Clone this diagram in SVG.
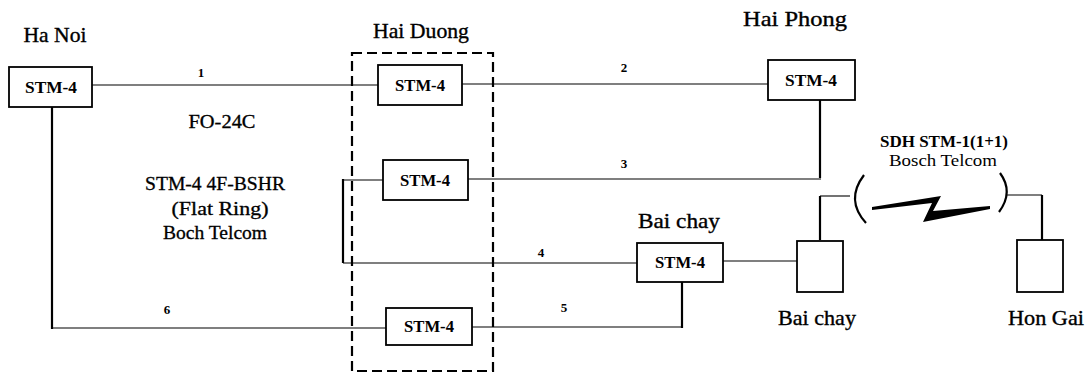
<svg xmlns="http://www.w3.org/2000/svg" width="1090" height="374" viewBox="0 0 1090 374" font-family="'Liberation Serif', 'Times New Roman', serif">
  <style>
    text { font-family: "Liberation Serif", "Times New Roman", serif; fill: #000; }
    .city { font-size: 21px; text-anchor: middle; stroke: #000; stroke-width: 0.35; }
    .box-label { font-size: 17px; text-anchor: middle; font-weight: bold; }
    .num { font-size: 13px; text-anchor: middle; font-weight: bold; }
    .note { font-size: 18px; text-anchor: middle; stroke: #000; stroke-width: 0.3; }
    .radio { font-size: 16px; text-anchor: middle; }
    .node rect { fill: #fff; stroke: #000; stroke-width: 1.8; }
    .link { fill: none; stroke: #000; stroke-width: 1.1; }
    .trunk { fill: none; stroke: #000; stroke-width: 2.2; }
    .site { fill: none; stroke: #000; stroke-width: 2.2; stroke-dasharray: 10 5; }
  </style>
  <rect width="1090" height="374" fill="#fff"/>

  <!-- connectors -->
  <g id="connectors">
    <!-- 1: Ha Noi - Hai Duong -->
    <path class="link" d="M92 85 H378"/>
    <!-- 2: Hai Duong - Hai Phong -->
    <path class="link" d="M462 84 H768"/>
    <!-- 3: Hai Phong - Hai Duong -->
    <path class="trunk" d="M820 100 V178"/>
    <path class="link" d="M468 179 H821"/>
    <!-- 4: Hai Duong bracket - Bai chay -->
    <path class="link" d="M383 180 H343"/>
    <path class="trunk" d="M343 179 V263"/>
    <path class="link" d="M343 263 H637"/>
    <!-- 5: Hai Duong - Bai chay -->
    <path class="link" d="M472 327 H682"/>
    <path class="trunk" d="M682 328 V282"/>
    <!-- 6: Ha Noi - Hai Duong -->
    <path class="trunk" d="M52 107 V329"/>
    <path class="link" d="M52 328 H386"/>
    <!-- Bai chay STM-4 to radio terminal -->
    <path class="link" d="M723 261 H797"/>
    <!-- radio terminals to antennas -->
    <path class="trunk" d="M820 240 V196"/>
    <path class="link" d="M820 196 H850"/>
    <path class="link" d="M1006 195 H1042"/>
    <path class="trunk" d="M1042 195 V240"/>
    <!-- radio hop -->
    <path class="trunk" d="M864 175 Q845 200 866 223"/>
    <path class="trunk" d="M1000 173 Q1014 192 999 212"/>
    <polygon fill="#000" points="872,207 941,196 933,211 990,206 990,209 923,222 932,203 872,210"/>
  </g>

  <!-- Hai Duong site outline -->
  <g id="hai-duong-site">
    <rect class="site" x="352" y="53" width="141" height="318"/>
    <text class="city" x="421" y="38" textLength="96" lengthAdjust="spacingAndGlyphs">Hai Duong</text>
  </g>

  <g id="ha-noi" class="node">
    <text class="city" x="55" y="42" textLength="63" lengthAdjust="spacingAndGlyphs">Ha Noi</text>
    <rect x="9" y="67" width="83" height="40"/>
    <text class="box-label" x="51" y="93" textLength="52" lengthAdjust="spacingAndGlyphs">STM-4</text>
  </g>

  <g id="hai-duong-1" class="node">
    <rect x="378" y="65" width="84" height="40"/>
    <text class="box-label" x="420" y="91" textLength="50" lengthAdjust="spacingAndGlyphs">STM-4</text>
  </g>

  <g id="hai-duong-2" class="node">
    <rect x="383" y="160" width="85" height="40"/>
    <text class="box-label" x="425" y="186" textLength="50" lengthAdjust="spacingAndGlyphs">STM-4</text>
  </g>

  <g id="hai-duong-3" class="node">
    <rect x="386" y="308" width="86" height="37"/>
    <text class="box-label" x="429" y="332" textLength="50" lengthAdjust="spacingAndGlyphs">STM-4</text>
  </g>

  <g id="hai-phong" class="node">
    <text class="city" x="795" y="26" textLength="104" lengthAdjust="spacingAndGlyphs">Hai Phong</text>
    <rect x="768" y="60" width="87" height="40"/>
    <text class="box-label" x="811" y="86" textLength="52" lengthAdjust="spacingAndGlyphs">STM-4</text>
  </g>

  <g id="bai-chay" class="node">
    <text class="city" x="679" y="228" textLength="82" lengthAdjust="spacingAndGlyphs">Bai chay</text>
    <rect x="637" y="243" width="86" height="39"/>
    <text class="box-label" x="680" y="268" textLength="50" lengthAdjust="spacingAndGlyphs">STM-4</text>
  </g>

  <g id="bai-chay-radio" class="node">
    <rect x="797" y="241" width="46" height="51"/>
    <text class="city" x="817" y="325" textLength="78" lengthAdjust="spacingAndGlyphs">Bai chay</text>
  </g>

  <g id="hon-gai-radio" class="node">
    <rect x="1017" y="240" width="46" height="52"/>
    <text class="city" x="1046" y="325" textLength="76" lengthAdjust="spacingAndGlyphs">Hon Gai</text>
  </g>

  <!-- link numbers and ring notes -->
  <g id="labels">
    <text class="num" x="201" y="77">1</text>
    <text class="num" x="624" y="72">2</text>
    <text class="num" x="624" y="168">3</text>
    <text class="num" x="541" y="257">4</text>
    <text class="num" x="564" y="312">5</text>
    <text class="num" x="167" y="314">6</text>
    <text class="note" x="222" y="128" textLength="67" lengthAdjust="spacingAndGlyphs">FO-24C</text>
    <text class="note" x="215" y="190" textLength="140" lengthAdjust="spacingAndGlyphs">STM-4 4F-BSHR</text>
    <text class="note" x="220" y="215" textLength="97" lengthAdjust="spacingAndGlyphs">(Flat Ring)</text>
    <text class="note" x="215" y="239" textLength="104" lengthAdjust="spacingAndGlyphs">Boch Telcom</text>
    <text class="radio" x="944" y="147" font-weight="bold" textLength="128" lengthAdjust="spacingAndGlyphs">SDH STM-1(1+1)</text>
    <text class="radio" x="943" y="166" textLength="108" lengthAdjust="spacingAndGlyphs">Bosch Telcom</text>
  </g>
</svg>
